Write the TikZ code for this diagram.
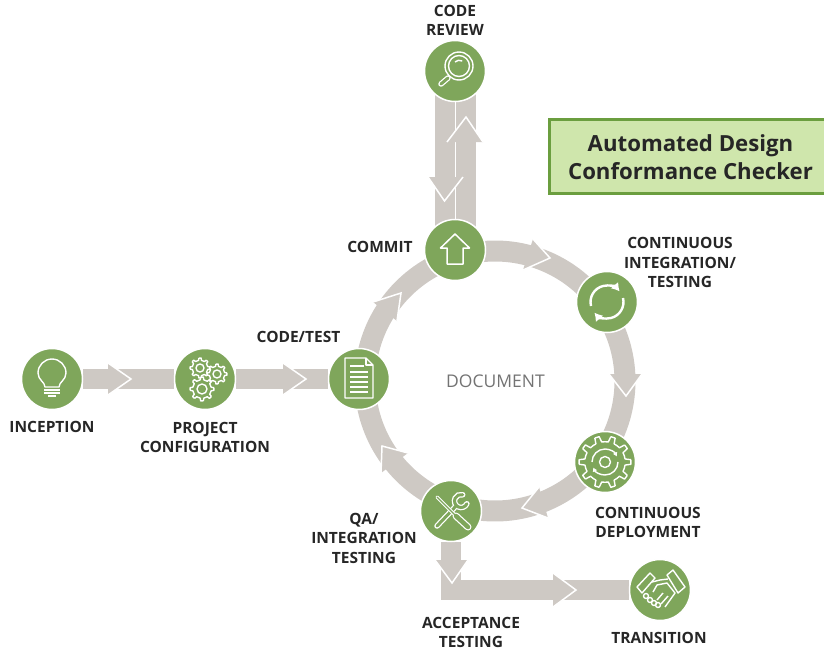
\documentclass[tikz,border=0pt]{standalone}
\usepackage{fontspec}
\setmainfont{Open Sans}
\usetikzlibrary{calc,backgrounds,arrows.meta}

\definecolor{stepgreen}{HTML}{7FA65B}
\definecolor{bandgray}{HTML}{CEC9C4}
\definecolor{boxfill}{HTML}{CFE6AC}
\definecolor{boxline}{HTML}{6B9E3F}
\definecolor{labelink}{HTML}{262626}

\tikzset{
  stepnode/.style={circle,fill=stepgreen,draw=white,line width=1.5pt,minimum size=61pt,inner sep=0pt},
  steplabel/.style={align=center,inner sep=0pt,text=labelink,font=\bfseries\fontsize{15.5}{19.5}\selectfont},
  band/.style={draw=bandgray,line width=20pt},
  icon/.style={draw=white,line width=1.4pt,line join=round},
  iconfat/.style={draw=white,line cap=round},
  iconthin/.style={draw=stepgreen,line cap=round}
}

\newcommand{\blockhead}[3]{
  \fill[bandgray] #1 -- #2 -- #3 -- cycle;
  \draw[white,line width=1.5pt,line join=miter] #1 -- #2 -- #3;
}
\newcommand{\ringband}[4]{
  \draw[band,line width=21pt] (#1.center) -- ($(ring)+(#2:130)$)
    arc[start angle=#2,end angle=#4,radius=130] -- (#3.center);
}
\newcommand{\gearicon}[4]{
  \pgfmathsetmacro{\gs}{360/#4}
  \foreach \i in {1,...,#4} {
    \draw[icon,shift={(#1,#2)},rotate=\i*\gs]
      (-0.14*\gs:#3) -- (0.14*\gs:#3) -- (0.24*\gs:0.78*#3)
      arc[start angle=0.24*\gs,end angle=0.76*\gs,radius=0.78*#3]
      -- (0.86*\gs:#3);
  }
}

\begin{document}
\begin{tikzpicture}[x=1pt,y=1pt,yscale=-1]
  \useasboundingbox (0,0) rectangle (824,651);

  \coordinate (ring) at (495,381);

  \node[stepnode] (inception) at (52,379) {};
  \node[stepnode] (project) at (205,379) {};
  \node[stepnode] (codetest) at (359,379) {};
  \node[stepnode] (commit) at (455,250) {};
  \node[stepnode] (review) at (455,71) {};
  \node[stepnode] (integration) at (607,302) {};
  \node[stepnode] (deployment) at (605,462) {};
  \node[stepnode] (qa) at (451,511) {};
  \node[stepnode] (transition) at (660,590) {};

  \begin{pgfonlayer}{background}
    \draw[band] (inception) -- (project);
    \draw[band] (project) -- (codetest);
    \ringband{commit}{-103}{integration}{-39}
    \ringband{integration}{-31}{deployment}{33}
    \ringband{deployment}{41}{qa}{105}
    \ringband{qa}{112}{codetest}{176}
    \ringband{codetest}{184}{commit}{249}
    \draw[band] ($(commit)+(-10.5,0)$) -- ($(review)+(-10.5,0)$);
    \draw[band] ($(commit)+(11,0)$) -- ($(review)+(11,0)$);
    \draw[band] (qa) |- (transition);

    \blockhead{(108,363)}{(131,379)}{(108,395)}
    \blockhead{(283,363)}{(306,379)}{(283,395)}
    \blockhead{(533,239)}{(550,258)}{(523,270)}
    \blockhead{(609,374)}{(626,396)}{(642,374)}
    \blockhead{(539,487)}{(522,508)}{(548,518)}
    \blockhead{(381,473)}{(382,446)}{(408,453)}
    \blockhead{(373,302)}{(401,293)}{(397,321)}
    \blockhead{(428,177)}{(444.5,201)}{(463,177)}
    \blockhead{(447,142)}{(466,117)}{(483,142)}
    \blockhead{(435,560)}{(452,583)}{(468,560)}
    \blockhead{(553,573)}{(576,590)}{(553,607)}
  \end{pgfonlayer}

  % bulb
  \begin{scope}[shift={(inception)}]
    \draw[icon] (-7,8) .. controls (-7,3) and (-14,1) .. (-14,-6)
      arc[start angle=180,end angle=360,radius=14]
      .. controls (14,1) and (7,3) .. (7,8) -- cycle;
    \draw[icon] (-8,11) -- (8,11);
    \draw[icon] (-8,14) -- (8,14);
    \draw[icon] (-4,17) -- (4,17);
  \end{scope}

  % gears
  \begin{scope}[shift={(project)}]
    \gearicon{-5}{-11}{10}{8}
    \gearicon{12}{-5}{10}{8}
    \gearicon{-3}{10}{12}{8}
    \draw[icon] (-5,-11) circle[radius=4];
    \draw[icon] (12,-5) circle[radius=4];
    \draw[icon] (-3,10) circle[radius=5];
  \end{scope}

  % sheet
  \begin{scope}[shift={(codetest)}]
    \draw[icon] (-14,-21) -- (7,-21) -- (14,-14) -- (14,19) -- (-14,19) -- cycle;
    \draw[icon] (7,-21) -- (7,-14) -- (14,-14);
    \draw[icon] (-9,-13) -- (5,-13);
    \foreach \y in {-7,-2,3,8,13} {
      \draw[icon] (-9,\y) -- (9,\y);
    }
  \end{scope}

  % up arrow
  \begin{scope}[shift={(commit)}]
    \draw[icon,line width=1.5pt] (0,-16) -- (14.5,-2) -- (8,-2) -- (8,14)
      -- (-8,14) -- (-8,-2) -- (-14.5,-2) -- cycle;
  \end{scope}

  % magnifier
  \begin{scope}[shift={(review)}]
    \draw[iconfat,line width=5.5pt] (-7,7) -- (-14,13);
    \draw[iconthin,line width=3pt] (-7,7) -- (-14,13);
    \draw[icon] (4,-5) circle[radius=14];
    \draw[icon] (4,-5) circle[radius=10.5];
    \draw[icon] (0,-9) arc[start angle=225,end angle=300,radius=6];
  \end{scope}

  % circular arrows
  \begin{scope}[shift={(integration)}]
    \draw[icon,line width=2.4pt,-{Latex[length=8pt,width=10pt]}]
      (-16,4) arc[start angle=166,end angle=320,radius=16.5];
    \draw[icon,line width=2.4pt,-{Latex[length=8pt,width=10pt]}]
      (16,-4) arc[start angle=346,end angle=500,radius=16.5];
  \end{scope}

  % gear with arrows
  \begin{scope}[shift={(deployment)}]
    \gearicon{0}{0}{26}{10}
    \draw[icon,-{Latex[length=4pt,width=5pt]}] (-13,0) arc[start angle=180,end angle=335,radius=13];
    \draw[icon,-{Latex[length=4pt,width=5pt]}] (13,0) arc[start angle=0,end angle=155,radius=13];
    \draw[icon] (0,0) circle[radius=5.5];
  \end{scope}

  % wrench and screwdriver
  \begin{scope}[shift={(qa)}]
    \draw[iconfat,line width=5.5pt] (-14,15) -- (5,-5);
    \draw[iconfat,line width=5.5pt] (10,-10) ++(25:6.5)
      arc[start angle=25,end angle=285,radius=6.5];
    \draw[iconthin,line width=3pt] (-14,15) -- (5,-5);
    \draw[iconthin,line width=3pt] (10,-10) ++(25:6.5)
      arc[start angle=25,end angle=285,radius=6.5];
    \draw[iconfat,line width=3.5pt] (-14,-14) -- (4,4);
    \draw[iconfat,line width=7pt] (5,5) -- (17,16);
    \draw[iconthin,line width=1.2pt] (-14,-14) -- (4,4);
    \draw[iconthin,line width=4.5pt] (5,5) -- (17,16);
  \end{scope}

  % handshake
  \begin{scope}[shift={(transition)}]
    \draw[icon] (-23,-3) -- (-10,-17) -- (-5,-12) -- (-18,3) -- cycle;
    \draw[icon] (7,-15) -- (13,-20) -- (25,-3) -- (18,3) -- cycle;
    \draw[icon] (-8,-8) -- (0,-10) -- (8,-11);
    \draw[icon] (-7,2) -- (-3,-5) -- (7,-7) -- (15,3) -- (5,17);
    \foreach \x/\y in {-14/6,-10/10,-6/13,-2/15} {
      \draw[icon] (\x,\y) circle[radius=2.5];
    }
    \draw[icon] (8,6) -- (1,14);
    \draw[icon] (3,3) -- (-3,10);
  \end{scope}

  \node[steplabel] (inceptionlabel) at (52,427) {INCEPTION};
  \node[steplabel] (projectlabel) at (205,437.5) {PROJECT\\CONFIGURATION};
  \node[steplabel] (codetestlabel) at (298.5,337) {CODE/TEST};
  \node[steplabel] (commitlabel) at (380,247) {COMMIT};
  \node[steplabel] (reviewlabel) at (455,20.5) {CODE\\REVIEW};
  \node[steplabel] (integrationlabel) at (680,262.5) {CONTINUOUS\\INTEGRATION/\\TESTING};
  \node[steplabel] (deploymentlabel) at (648,522.5) {CONTINUOUS\\DEPLOYMENT};
  \node[steplabel] (qalabel) at (364,538) {QA/\\INTEGRATION\\TESTING};
  \node[steplabel] (acceptancelabel) at (471,632.5) {ACCEPTANCE\\TESTING};
  \node[steplabel] (transitionlabel) at (659,638) {TRANSITION};

  \node[text=black!55,font=\fontsize{17.5}{20}\selectfont,inner sep=0pt] (document) at (495.5,381) {DOCUMENT};

  \node[draw=boxline,fill=boxfill,line width=3pt,minimum width=284pt,minimum height=74pt,inner sep=0pt] (checkerbox) at (691,156.5) {};
  \node[align=center,inner sep=0pt,text=labelink,font=\bfseries\fontsize{22.2}{28}\selectfont] (checker) at (690.5,157) {Automated Design\\Conformance Checker};
\end{tikzpicture}
\end{document}
